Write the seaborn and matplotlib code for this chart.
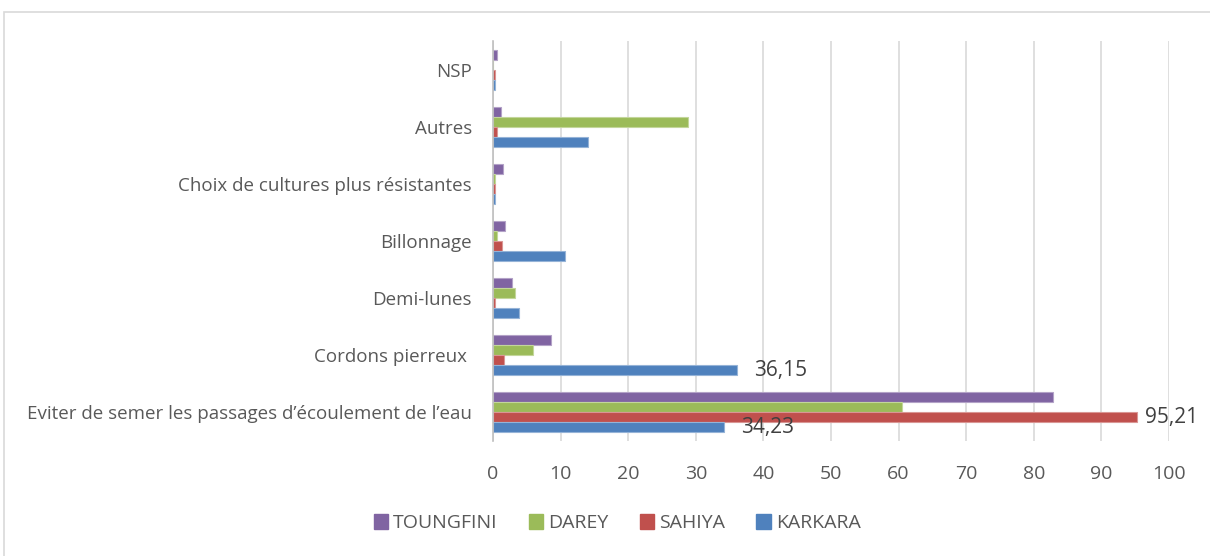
import matplotlib
matplotlib.use("Agg")
import matplotlib.pyplot as plt
import pandas as pd
import seaborn as sns
from matplotlib.patches import Rectangle

# data
categories = ["NSP", "Autres", "Choix de cultures plus résistantes", "Billonnage",
              "Demi-lunes", "Cordons pierreux ",
              "Eviter de semer les passages d\u2019écoulement de l\u2019eau"]
villages = ["TOUNGFINI", "DAREY", "SAHIYA", "KARKARA"]
toungfini = [0.6, 1.2, 1.5, 1.8, 2.8, 8.6, 82.8]
darey = [0.0, 28.9, 0.25, 0.55, 3.25, 5.9, 60.5]
sahiya = [0.25, 0.55, 0.25, 1.3, 0.25, 1.6, 95.21]
karkara = [0.25, 14.1, 0.25, 10.7, 3.8, 36.15, 34.23]
colors = ["#8064A2", "#9BBB59", "#C0504D", "#4F81BD"]
edges = ["#B3A2C7", "#C3D69B", "#D99694", "#95B3D7"]

series = {"TOUNGFINI": toungfini, "DAREY": darey, "SAHIYA": sahiya, "KARKARA": karkara}
rows = []
for v in villages:
    for c, val in zip(categories, series[v]):
        rows.append({"cat": c, "village": v, "val": val})
df = pd.DataFrame(rows)

sns.set_theme(style="white")
plt.rcParams["font.family"] = ["Open Sans", "DejaVu Sans"]
text_col = "#595959"

fig = plt.figure(figsize=(12.1, 5.56), dpi=100)
ax = fig.add_axes([0.4074, 0.207, 0.5587, 0.719])

sns.barplot(data=df, y="cat", x="val", hue="village", order=categories,
            hue_order=villages, palette=colors, width=0.7, orient="h",
            saturation=1, ax=ax, legend=False)

for cont, ec in zip(ax.containers, edges):
    for bar in cont:
        bar.set_edgecolor(ec)
        bar.set_linewidth(0.8)

# data labels on selected bars
lab_karkara = ["", "", "", "", "", "36,15", "34,23"]
lab_sahiya = ["", "", "", "", "", "", "95,21"]
ax.bar_label(ax.containers[3], labels=lab_karkara, padding=12, fontsize=15,
             color="#404040")
ax.bar_label(ax.containers[2], labels=lab_sahiya, padding=6, fontsize=15,
             color="#404040")

ax.set_xlim(0, 100)
ax.set_xticks(range(0, 101, 10))
ax.grid(axis="x", color="#D9D9D9", linewidth=1.2)
ax.set_axisbelow(True)
for s in ["top", "right", "bottom"]:
    ax.spines[s].set_visible(False)
ax.spines["left"].set_color("#BFBFBF")
ax.spines["left"].set_linewidth(1.2)
ax.tick_params(axis="x", labelsize=14, colors=text_col, pad=17, length=0)
ax.tick_params(axis="y", labelsize=13.5, colors=text_col, pad=15, length=0)
ax.set_xlabel("")
ax.set_ylabel("")

# legend
handles = [plt.Rectangle((0, 0), 1, 1, color=c) for c in colors]
fig.legend(handles, villages, loc="center", bbox_to_anchor=(0.51, 0.059),
           ncol=4, frameon=False, fontsize=14, handlelength=0.75, handleheight=0.75,
           columnspacing=1.6, handletextpad=0.25, labelcolor=text_col)

# outer chart border
fig.patches.append(Rectangle((4 / 1210, -0.01), 1.0, 1 - 12 / 556 + 0.01,
                             transform=fig.transFigure, fill=False,
                             edgecolor="#D9D9D9", linewidth=1.2))

fig.savefig("out.png", dpi=100)
